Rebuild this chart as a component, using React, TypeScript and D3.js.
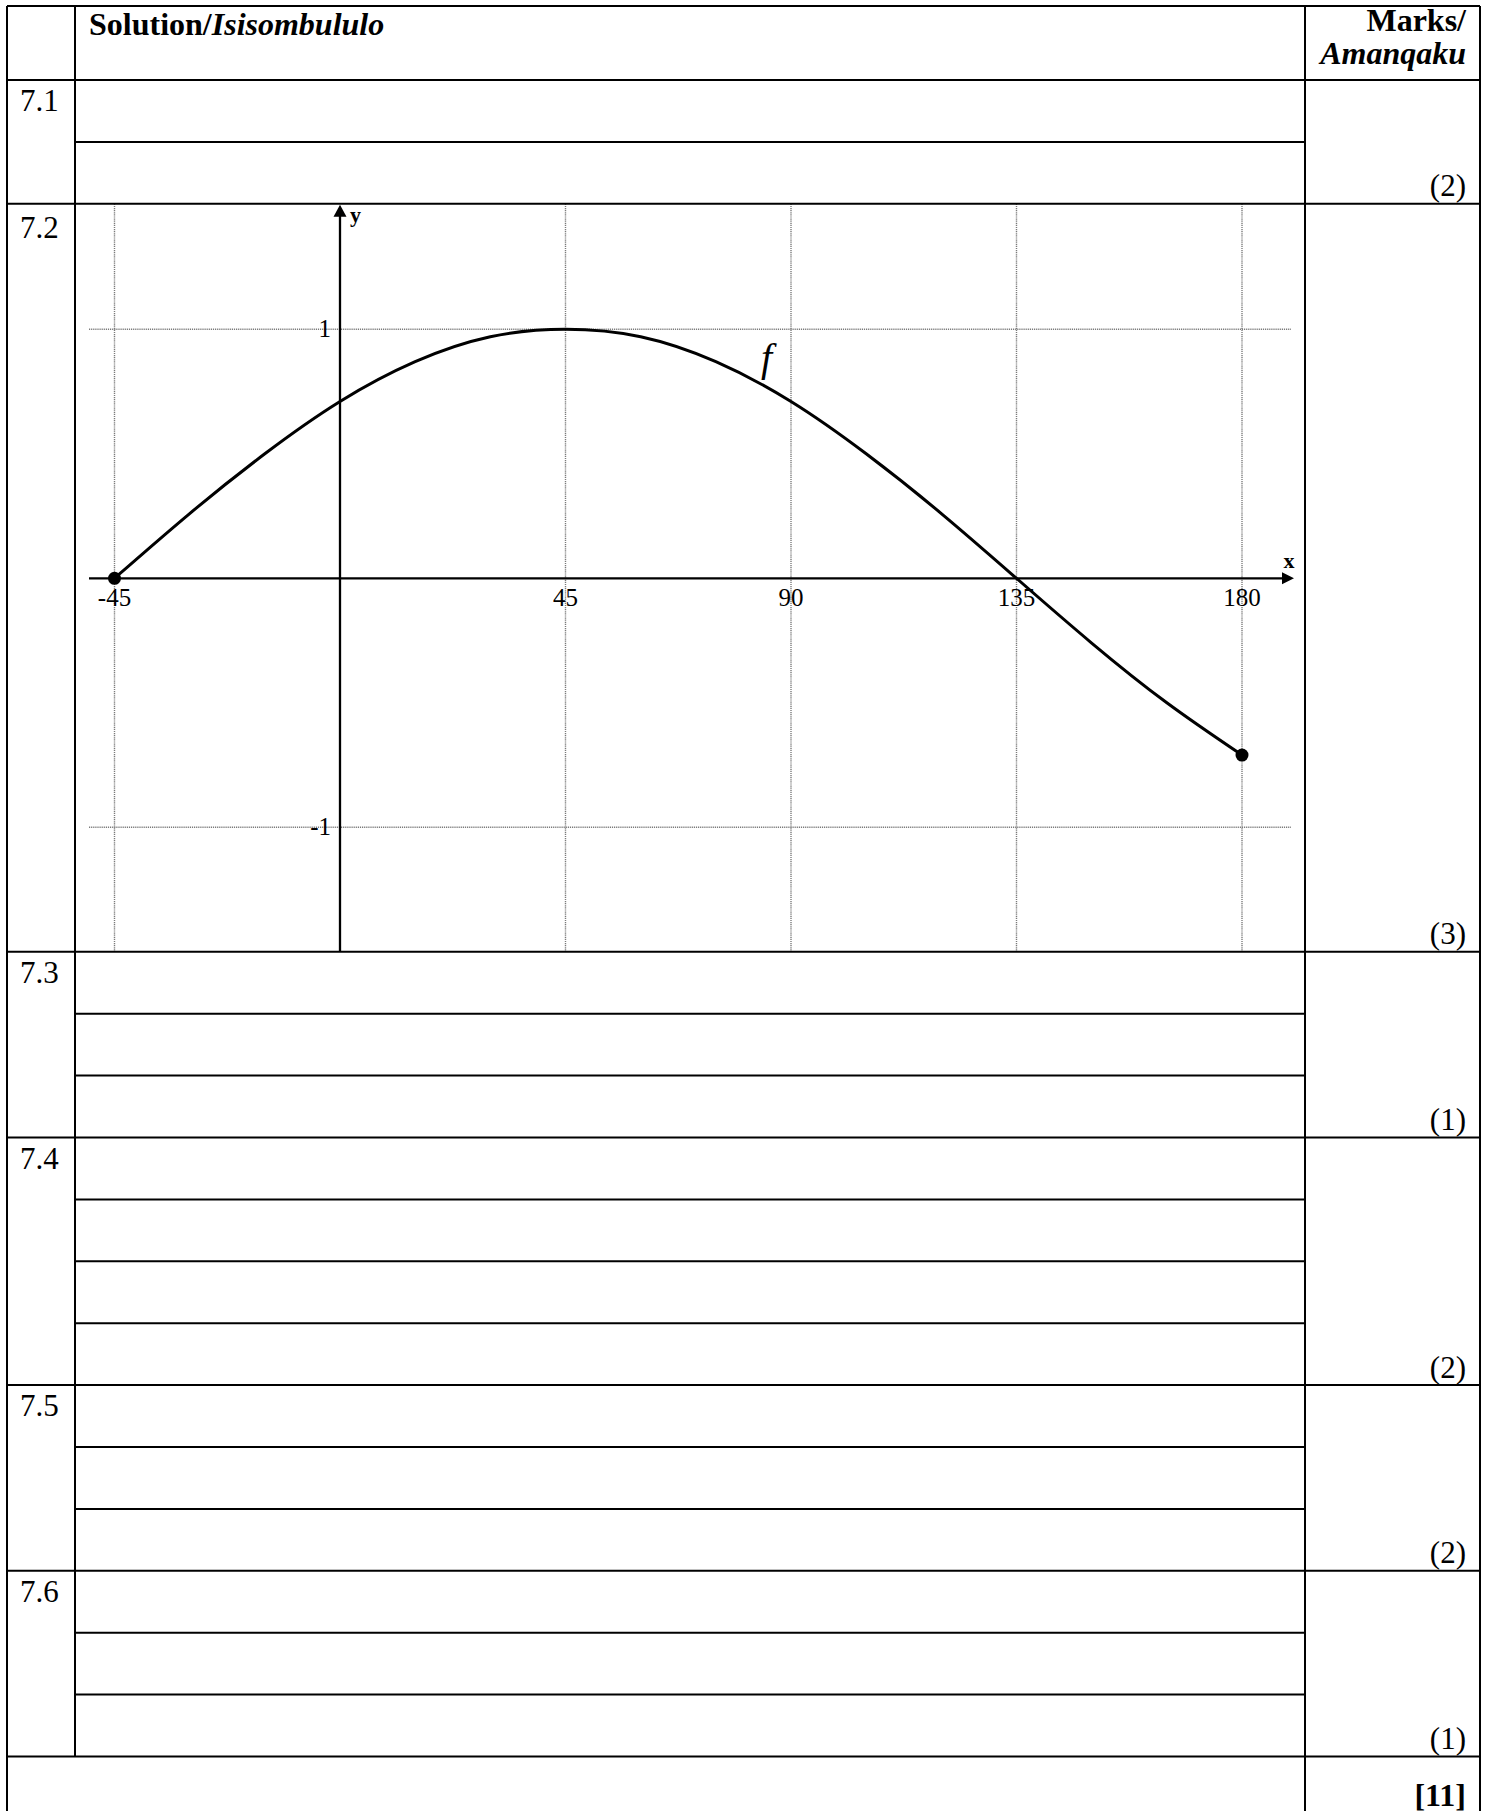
import React from 'react'
import * as d3 from 'd3'

// question table
const questions = ['7.1', '7.2', '7.3', '7.4', '7.5', '7.6']
const answerLines = [2, 0, 3, 4, 3, 3] // 0 -> the row that holds the graph
const marks = ['(2)', '(3)', '(1)', '(2)', '(2)', '(1)']
const total = '[11]'

// the graph of f
const angles = [-45, -30, -15, 0, 15, 30, 45, 60, 75, 90, 105, 120, 135, 150, 165, 180]
const fValues = [0, 0.26, 0.5, 0.71, 0.87, 0.97, 1, 0.97, 0.87, 0.71, 0.5, 0.26, 0, -0.26, -0.5, -0.71]
const xTicks = [-45, 45, 90, 135, 180]
const xTickLabels = ['-45', '45', '90', '135', '180']
const yTicks = [1, -1]
const yTickLabels = ['1', '-1']
const endPoints = [0, angles.length - 1]

const W = 1490, H = 1811
const serif = "'Liberation Serif', 'Times New Roman', serif"

export default function App() {
    const left = 7, col1 = 75, col2 = 1305, right = 1480
    const top = 6, headBottom = 80, lineH = 61.9, graphH = 748

    // row boundaries
    let yy = headBottom
    const rows = questions.map((q, i) => {
        const h = answerLines[i] ? answerLines[i] * lineH : graphH
        const r = { q, y0: yy, y1: yy + h, n: answerLines[i], mark: marks[i] }
        yy += h
        return r
    })
    const lastY = yy

    const gRow = rows[answerLines.indexOf(0)]
    const plotLeft = 89, plotRight = 1293
    const x = d3.scaleLinear().domain([-45, 180]).range([114.5, 1242])
    const y = d3.scaleLinear().domain([-1, 1]).range([gRow.y0 + 623.5, gRow.y0 + 125.5])
    const x0 = x(0), y0 = y(0)

    const pts = angles.map((a, i) => [a, fValues[i]] as [number, number])
    const line = d3.line<[number, number]>()
        .x(d => x(d[0]))
        .y(d => y(d[1]))
        .curve(d3.curveNatural)

    const stroke = '#000'
    return (
        <svg width={W} height={H} style={{ position: 'absolute', left: 0, top: 0, background: '#fff' }}
            fontFamily={serif}>
            <rect width={W} height={H} fill="#fff" />

            {/* graph grid */}
            <g stroke="#7a7a7a" strokeWidth={1.4} strokeDasharray="1.2 0.9">
                {xTicks.map(t => (
                    <line key={'gx' + t} x1={x(t)} x2={x(t)} y1={gRow.y0} y2={gRow.y1} />
                ))}
                {yTicks.map(t => (
                    <line key={'gy' + t} x1={plotLeft} x2={plotRight - 2} y1={y(t)} y2={y(t)} />
                ))}
            </g>

            {/* axes */}
            <g stroke={stroke} strokeWidth={2.3}>
                <line x1={plotLeft} x2={plotRight - 8} y1={y0} y2={y0} />
                <line x1={x0} x2={x0} y1={gRow.y1} y2={gRow.y0 + 10} />
            </g>
            <polygon points={`${plotRight + 1},${y0} ${plotRight - 11},${y0 - 6} ${plotRight - 11},${y0 + 6}`} fill={stroke} />
            <polygon points={`${x0},${gRow.y0 + 1} ${x0 - 6.5},${gRow.y0 + 13} ${x0 + 6.5},${gRow.y0 + 13}`} fill={stroke} />
            <text x={plotRight - 4} y={y0 - 10} fontSize={22} fontWeight="bold" textAnchor="middle">x</text>
            <text x={x0 + 10} y={gRow.y0 + 18} fontSize={22} fontWeight="bold">y</text>

            {/* tick labels */}
            <g fontSize={25} fill="#000">
                {xTicks.map((t, i) => (
                    <text key={'tx' + t} x={x(t)} y={y0 + 28} textAnchor="middle">{xTickLabels[i]}</text>
                ))}
                {yTicks.map((t, i) => (
                    <text key={'ty' + t} x={x0 - 9} y={y(t) + 8} textAnchor="end">{yTickLabels[i]}</text>
                ))}
            </g>

            {/* f */}
            <path d={line(pts) || ''} fill="none" stroke={stroke} strokeWidth={3} strokeLinejoin="round" />
            {endPoints.map(i => (
                <circle key={'p' + i} cx={x(angles[i])} cy={y(fValues[i])} r={6.5} fill={stroke} />
            ))}
            <text x={761} y={gRow.y0 + 167} fontSize={40} fontStyle="italic">f</text>

            {/* table */}
            <g stroke={stroke} strokeWidth={2}>
                <line x1={left} x2={right} y1={top} y2={top} />
                <line x1={left} x2={right} y1={headBottom} y2={headBottom} />
                <line x1={left} x2={left} y1={top} y2={H} />
                <line x1={right} x2={right} y1={top} y2={H} />
                <line x1={col2} x2={col2} y1={top} y2={H} />
                <line x1={col1} x2={col1} y1={top} y2={lastY} />
                {rows.map(r => (
                    <line key={'rl' + r.q} x1={left} x2={right} y1={r.y1} y2={r.y1} />
                ))}
                {rows.map(r => d3.range(1, r.n).map(k => (
                    <line key={'al' + r.q + k} x1={col1} x2={col2} y1={r.y0 + k * lineH} y2={r.y0 + k * lineH} />
                )))}
            </g>

            {/* header */}
            <text x={89} y={35} fontSize={32} fontWeight="bold">
                Solution/<tspan fontStyle="italic">Isisombululo</tspan>
            </text>
            <text x={1466} y={31} fontSize={32} fontWeight="bold" textAnchor="end">Marks/</text>
            <text x={1466} y={64} fontSize={32} fontWeight="bold" fontStyle="italic" textAnchor="end">Amanqaku</text>

            {rows.map(r => (
                <g key={'t' + r.q} fontSize={31}>
                    <text x={20} y={r.y0 + (r.n ? 31 : 34)}>{r.q}</text>
                    <text x={1466} y={r.y1 - 7.5} textAnchor="end">{r.mark}</text>
                </g>
            ))}
            <text x={1466} y={lastY + 49} fontSize={32} fontWeight="bold" textAnchor="end">{total}</text>
        </svg>
    )
}
